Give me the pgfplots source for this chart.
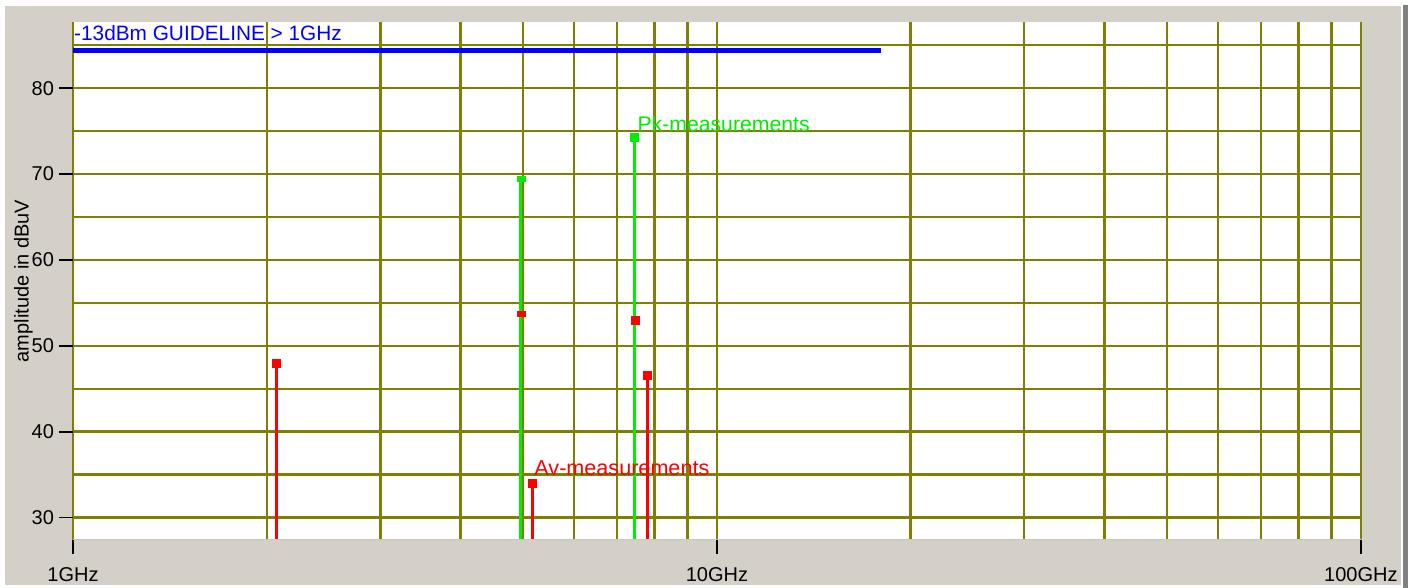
\documentclass[border=0pt]{standalone}
\usepackage{pgfplots}
\pgfplotsset{compat=1.18}
\usepackage{fontspec}
\setmainfont{Liberation Sans}
\setsansfont{Liberation Sans}
\definecolor{bggray}{RGB}{212,208,200}
\definecolor{edgegray}{RGB}{128,128,128}
\definecolor{gridolive}{RGB}{128,128,0}
\definecolor{pkgreen}{RGB}{0,238,0}
\definecolor{avred}{RGB}{255,0,0}
\definecolor{guideblue}{RGB}{0,0,255}
\begin{document}
\begin{tikzpicture}
\fill[white] (-36.5pt,-24pt) rectangle (667.5pt,270pt);
\fill[bggray] (-34pt,-22.5pt) rectangle (664pt,267pt);
\fill[edgegray] (665pt,-24pt) rectangle (667.5pt,267.5pt);
\begin{axis}[
  at={(0,0)}, anchor=south west, scale only axis,
  width=644.5pt, height=259pt,
  xmode=log, log basis x=10,
  xmin=1, xmax=100.4, ymin=27.4, ymax=87.7,
  xtick={1,10,100}, xticklabels={1GHz,10GHz,100GHz},
  minor xtick={2,3,4,5,6,7,8,9,20,30,40,50,60,70,80,90},
  ytick={30,40,50,60,70,80},
  minor ytick={35,45,55,65,75,85},
  xmajorgrids, xminorgrids, ymajorgrids, yminorgrids,
  major grid style={gridolive, line width=1.3pt},
  minor grid style={gridolive, line width=1.3pt},
  axis background/.style={fill=white},
  axis line style={draw=none},
  tick align=outside,
  major tick length=7pt, minor tick length=0pt,
  xtick pos=left, ytick pos=left,
  major tick style={black, line width=0.8pt},
  minor tick style={draw=none},
  ticklabel style={font=\fontsize{10}{12}\selectfont, text=black},
  xticklabel style={yshift=-3pt},
  yticklabel style={xshift=1pt},
  /pgf/number format/assume math mode=true,
  ylabel={amplitude in dBuV},
  ylabel style={at={(axis description cs:-0.0385,0.5)}, anchor=center, rotate=0, font=\fontsize{10}{12}\selectfont},
  clip=true,
]
% guideline
\addplot[guideblue, line width=2.5pt] coordinates {(1,84.4) (18,84.4)};
% Av stems
\addplot[avred, line width=1.5pt, ycomb, mark=square*, mark size=2pt,
  mark options={solid, fill=avred, draw=avred, line width=0pt}]
  coordinates {(2.074,48.0) (5.18,33.95) (7.79,46.6)};
% Pk stems
\addplot[pkgreen, line width=1.5pt, ycomb, mark=square*, mark size=2pt,
  mark options={solid, fill=pkgreen, draw=pkgreen, line width=0pt}]
  coordinates {(7.46,74.25)};
\addplot[pkgreen, line width=1.5pt, ycomb, mark=square*, mark size=2pt,
  mark options={solid, fill=pkgreen, draw=pkgreen, line width=0pt, yscale=0.6, xshift=0.5pt}]
  coordinates {(4.96,69.45)};
% Av marks on Pk stems
\addplot[only marks, mark=square*, mark size=2pt,
  mark options={solid, fill=avred, draw=avred, line width=0pt}]
  coordinates {(7.47,53.0)};
\addplot[only marks, mark=square*, mark size=2pt,
  mark options={solid, fill=avred, draw=avred, line width=0pt, yscale=0.6, xshift=0.5pt}]
  coordinates {(4.96,53.7)};
\draw[color={rgb,255:red,200;green,198;blue,192}, line width=0.8pt]
  (axis description cs:0,0) -- (axis description cs:1,0);
\node[anchor=west, inner sep=0pt, text=guideblue, font=\fontsize{10.4}{12}\selectfont]
  at (axis cs:1.003,86.4) {-13dBm GUIDELINE > 1GHz};
\node[anchor=west, inner sep=0pt, text=pkgreen, font=\fontsize{10.6}{12}\selectfont]
  at (axis cs:7.52,75.8) {Pk-measurements};
\node[anchor=west, inner sep=0pt, text=avred, font=\fontsize{10.8}{12}\selectfont]
  at (axis cs:5.20,35.8) {Av-measurements};
\end{axis}
\end{tikzpicture}
\end{document}
